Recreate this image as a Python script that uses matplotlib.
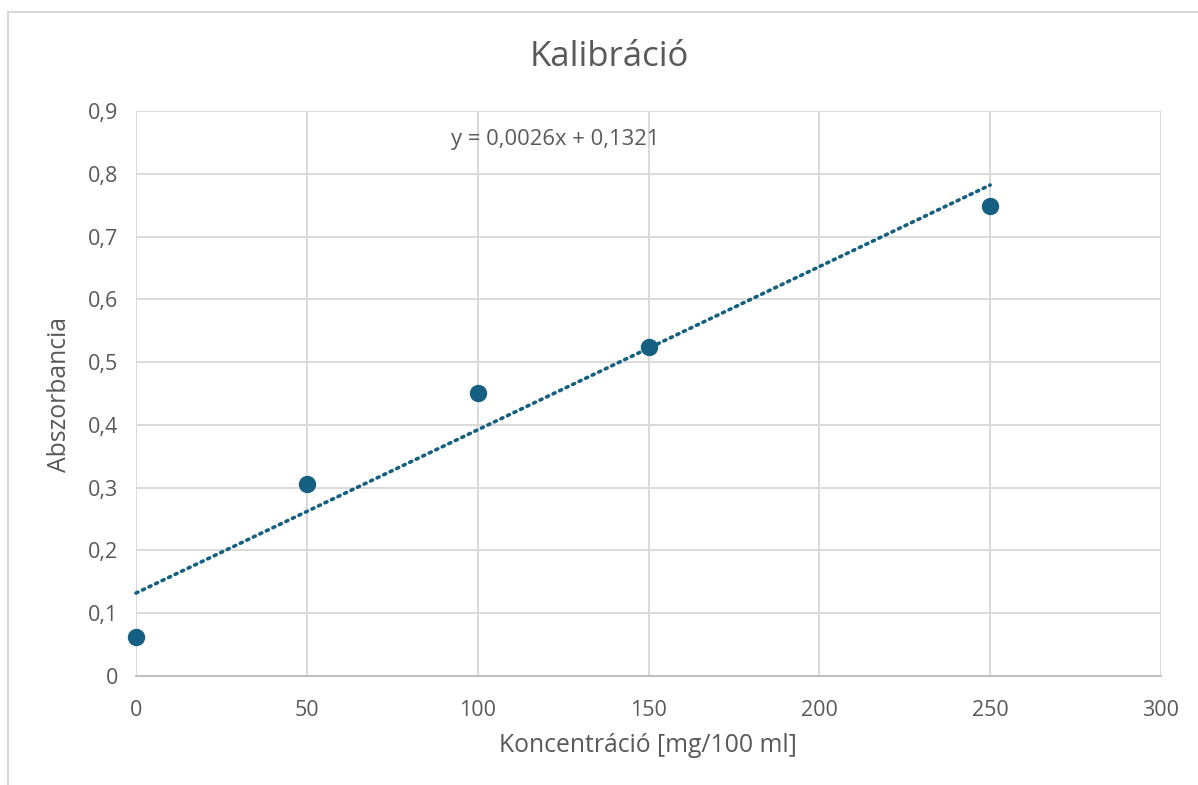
import matplotlib
matplotlib.use("Agg")
import matplotlib.pyplot as plt
from matplotlib.patches import Rectangle
from matplotlib.ticker import FuncFormatter

# Calibration data
concentration = [0, 50, 100, 150, 250]
absorbance = [0.062, 0.306, 0.451, 0.524, 0.749]

# Linear trendline coefficients
slope = 0.0026
intercept = 0.1321

x_ticks = [0, 50, 100, 150, 200, 250, 300]
y_ticks = [0, 0.1, 0.2, 0.3, 0.4, 0.5, 0.6, 0.7, 0.8, 0.9]

title = "Kalibráció"
x_label = "Koncentráció [mg/100 ml]"
y_label = "Abszorbancia"

plt.rcParams["font.family"] = ["Open Sans", "DejaVu Sans"]
text_color = "#595959"
grid_color = "#d9d9d9"
point_color = "#156082"

W, H = 1198, 785
fig = plt.figure(figsize=(W / 100, H / 100), dpi=100)

# Chart area border
fig.patches.append(Rectangle((8 / W, -0.05), 1.2, 1 - 12 / H + 0.05,
                             transform=fig.transFigure, fill=False,
                             edgecolor="#d9d9d9", linewidth=1.5))

left, right, top, bottom = 136, 1161, 111, 676
ax = fig.add_axes([left / W, 1 - bottom / H, (right - left) / W, (bottom - top) / H])

ax.set_xlim(0, 300)
ax.set_ylim(0, 0.9)
ax.set_xticks(x_ticks)
ax.set_yticks(y_ticks)
fmt = FuncFormatter(lambda v, p: ("%g" % round(v, 2)).replace(".", ","))
ax.xaxis.set_major_formatter(fmt)
ax.yaxis.set_major_formatter(fmt)

ax.grid(True, color=grid_color, linewidth=1.4)
ax.set_axisbelow(True)
for side in ["top", "right", "left"]:
    ax.spines[side].set_visible(False)
ax.spines["bottom"].set_color("#bfbfbf")
ax.spines["bottom"].set_linewidth(1.4)
ax.tick_params(length=0, colors=text_color, labelsize=15.5)
ax.tick_params(axis="x", pad=17)
ax.tick_params(axis="y", pad=13)

# Trendline over the data range
x0, x1 = min(concentration), max(concentration)
ax.plot([x0, x1], [slope * x0 + intercept, slope * x1 + intercept],
        linestyle=(0, (0.6, 1.4)), color=point_color, linewidth=2.6,
        dash_capstyle="round", zorder=3, clip_on=False)

ax.plot(concentration, absorbance, "o", color=point_color, markersize=11.5,
        zorder=4, clip_on=False)

eq = ("y = %.4fx + %.4f" % (slope, intercept)).replace(".", ",")
fig.text(555 / W, 1 - 139 / H, eq, ha="center", va="center",
         fontsize=15.8, color=text_color)

fig.text(609 / W, 1 - 57 / H, title, ha="center", va="center",
         fontsize=25, color=text_color)
fig.text(648 / W, 1 - 745 / H, x_label, ha="center", va="center",
         fontsize=17.8, color=text_color)
fig.text(60 / W, 1 - 394 / H, y_label, ha="center", va="center",
         fontsize=17.8, color=text_color, rotation=90)

fig.savefig("out.png", dpi=100)
